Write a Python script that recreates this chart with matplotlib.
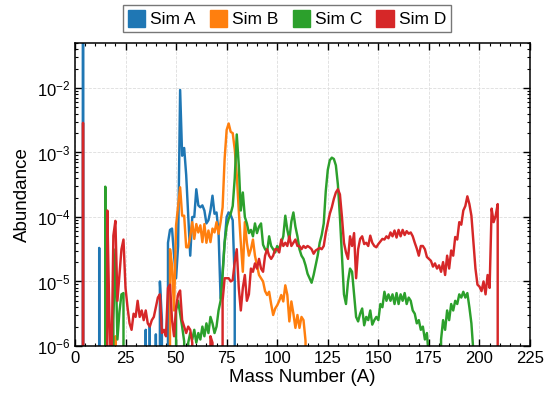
import numpy as np
import matplotlib
matplotlib.use("Agg")
import matplotlib.pyplot as plt
from matplotlib.patches import Patch
from matplotlib.ticker import MultipleLocator, LogLocator, NullFormatter

plt.rcParams['font.family'] = ['Liberation Sans', 'DejaVu Sans']
plt.rcParams['mathtext.fontset'] = 'custom'
plt.rcParams['mathtext.rm'] = 'Liberation Sans'
plt.rcParams['mathtext.it'] = 'Liberation Sans:italic'
plt.rcParams['mathtext.bf'] = 'Liberation Sans:bold'

N = None
# Mass numbers A = 1 .. 210 ; values are log10(abundance), None = zero abundance
mass_numbers = list(range(1, 211))

sim_a_log = (
    [N, N, N, -0.3, N, N, N, N, N, N] +
    [N, -4.48, N, N, N, N, N, N, N, N] +
    [N] * 10 +
    [N, N, N, N, -5.75, N, -5.67, N, N, -5.82] +
    [N, -5.0, -5.6, N, N, -4.4, -4.2, -4.18, -4.6, -4.95] +
    [-4.45, -2.03, -3.05, -2.93, -3.35, -3.97, -4.6, -4.0, -4.0, -3.57] +
    [-3.82, -3.85, -3.82, -3.9, -4.1, -4.05, -3.9, -3.67, -3.95, -3.93] +
    [-4.24, -5.26, -4.85, -4.4, -4.0, -3.93, -3.97, -4.05, -5.0, N] +
    [N] * 130
)

sim_b_log = (
    [N] * 10 +
    [N, N, N, N, N, N, N, N, N, -5.85] +
    [N] * 10 +
    [N] * 10 +
    [N, N, N, N, N, N, -4.5, -4.75, -5.45, -4.13] +
    [-3.83, -3.54, -3.98, -3.98, -4.47, -4.47, -4.3, -4.08, -4.34, -4.11] +
    [-4.24, -4.13, -4.39, -4.11, -4.4, -4.21, -4.39, -4.18, -4.24, -4.08] +
    [-4.26, -4.08, -3.85, -3.1, -2.65, -2.55, -2.68, -2.7, -2.95, -3.35] +
    [-3.9, -4.4, -4.85, -4.08, -4.4, -4.6, -4.5, -4.35, -4.6, -4.75] +
    [-4.9, -4.95, -5.0, -5.15, -5.21, -5.16, -5.35, -5.52, -5.42, -5.37] +
    [-5.3, -5.21, -5.31, -5.06, -5.21, -5.62, -5.31, -5.5, -5.72, -5.52] +
    [-5.72, -5.55, -5.6, -5.92, N, N, N, N, N, N] +
    [N] * 90
)

sim_c_log = (
    [N] * 10 +
    [N, N, N, N, -3.53, N, N, N, -5.6, -4.5] +
    [-5.9, -5.47, -5.2, -5.18, N, N, N, N, N, N] +
    [N] * 10 +
    [N, N, N, N, N, N, N, N, N, -5.45] +
    [-5.3, -5.5, -5.7, -5.93, N, -5.95, -5.8, -5.9, -5.75, -5.95] +
    [-5.8, -5.9, -5.7, -5.85, -5.65, -5.8, -5.55, -5.65, -5.8, -5.7] +
    [-5.45, -5.3, -4.9, -4.4, -4.15, -4.03, -3.95, -3.83, -3.4, -2.72] +
    [-3.2, -3.9, -3.62, -4.0, -4.1, -4.25, -4.2, -4.3, -4.1, -4.25] +
    [-4.15, -4.1, -4.43, -4.5, -4.54, -4.3, -4.45, -4.5, -4.55, -4.45] +
    [-4.5, -4.4, -4.3, -3.98, -4.2, -4.35, -4.07, -3.93, -4.15, -4.3] +
    [-4.5, -4.6, -4.65, -4.75, -4.88, -4.95, -5.02, -4.9, -4.75, -4.6] +
    [-4.4, -4.28, -4.1, -3.6, -3.27, -3.12, -3.08, -3.1, -3.2, -3.5] +
    [-4.0, -4.6, -5.2, -5.35, -5.0, -4.8, -4.85, -5.2, -5.55, -5.62] +
    [-5.5, -5.42, -5.68, -5.55, -5.6, -5.45, -5.67, -5.6, -5.55, -5.6] +
    [-5.35, -5.4, -5.16, -5.3, -5.2, -5.3, -5.2, -5.35, -5.18, -5.35] +
    [-5.2, -5.3, -5.18, -5.35, -5.25, -5.3, -5.45, -5.5, -5.65, -5.6] +
    [-5.75, -5.7, -5.9, -5.8, -6.2, N, N, N, N, N] +
    [-5.9, -5.6, -5.75, -5.45, -5.6, -5.35, -5.45, -5.3, -5.35, -5.2] +
    [-5.25, -5.16, -5.25, -5.18, -5.4, -5.65, -6.1, N, N, N] +
    [N] * 10
)

sim_d_log = (
    [N, N, N, -2.54, N, N, N, N, N, N] +
    [N, N, N, N, N, -3.9, -5.5, -6.5, -4.29, -4.06] +
    [-5.3, -4.9, -4.5, -4.35, -5.1, -5.4, -5.65, -5.75, -5.5, -5.55] +
    [-5.3, -5.55, -5.45, -5.6, -5.45, -5.65, -5.7, -5.6, -5.55, -5.4] +
    [-5.25, -5.2, -5.8, -5.75, -5.85, -5.1, -5.05, -5.6, -5.85, -5.4] +
    [-5.2, -5.14, -5.6, -5.7, -5.8, -5.7, -5.75, -5.95, N, N] +
    [N, N, N, N, N, N, -5.85, -5.95, N, N] +
    [N, N, -5.3, -4.95, -4.95, -4.95, -5.0, -4.98, -4.7, -4.5] +
    [-5.1, -5.45, -5.1, -4.9, -5.3, -5.2, -4.8, -4.85, -4.72, -4.8] +
    [-4.65, -4.8, -4.85, -4.6, -4.5, -4.6, -4.65, -4.6, -4.5, -4.5] +
    [-4.55, -4.35, -4.45, -4.4, -4.45, -4.3, -4.45, -4.4, -4.35, -4.45] +
    [-4.45, -4.5, -4.45, -4.48, -4.45, -4.47, -4.5, -4.57, -4.52, -4.5] +
    [-4.48, -4.5, -4.45, -4.25, -4.1, -3.95, -3.85, -3.72, -3.62, -3.57] +
    [-3.65, -4.0, -4.4, -4.55, -4.65, -4.3, -4.45, -4.25, -4.95, -4.5] +
    [-4.34, -4.3, -4.42, -4.4, -4.45, -4.29, -4.4, -4.45, -4.47, -4.42] +
    [-4.38, -4.34, -4.35, -4.3, -4.33, -4.24, -4.3, -4.21, -4.32, -4.2] +
    [-4.3, -4.2, -4.28, -4.22, -4.26, -4.24, -4.3, -4.4, -4.49, -4.6] +
    [-4.45, -4.45, -4.5, -4.62, -4.65, -4.68, -4.77, -4.72, -4.8, -4.75] +
    [-4.85, -4.7, -4.9, -4.6, -4.8, -4.52, -4.6, -4.31, -4.35, -4.08] +
    [-4.12, -3.9, -3.83, -3.68, -3.8, -3.98, -4.4, -4.8, -5.05, -5.08] +
    [-5.15, -5.0, -5.2, -4.9, -5.1, -3.87, -4.08, -3.98, -3.8, N]
)

series_names = ["Sim A", "Sim B", "Sim C", "Sim D"]
series_colors = ["#1f77b4", "#ff7f0e", "#2ca02c", "#d62728"]
series_logs = [sim_a_log, sim_b_log, sim_c_log, sim_d_log]


def to_abundance(logs):
    return np.array([0.0 if v is None else 10.0 ** v for v in logs])


fig = plt.figure(figsize=(5.51, 3.94), dpi=100)
ax = fig.add_axes([0.136, 0.122, 0.826, 0.769])

for name, color, logs in zip(series_names, series_colors, series_logs):
    ax.plot(mass_numbers, to_abundance(logs), color=color, lw=1.75, label=name)

ax.set_yscale('log', nonpositive='clip')
ax.set_xlim(0, 225)
ax.set_ylim(1e-6, 5e-2)

ax.xaxis.set_major_locator(MultipleLocator(25))
ax.xaxis.set_minor_locator(MultipleLocator(5))
ax.yaxis.set_major_locator(LogLocator(base=10, numticks=20))
ax.yaxis.set_minor_locator(LogLocator(base=10, subs=np.arange(2, 10), numticks=20))
ax.yaxis.set_minor_formatter(NullFormatter())

ax.tick_params(which='both', direction='in', top=True, right=True, labelsize=12)
ax.tick_params(which='major', length=5, width=1)
ax.tick_params(which='minor', length=2.5, width=0.8)
for sp in ax.spines.values():
    sp.set_linewidth(1.1)

ax.grid(True, which='major', ls='--', lw=0.6, color='#dddddd')
ax.set_axisbelow(True)

ax.set_xlabel("Mass Number (A)", fontsize=13.5, labelpad=2)
ax.set_ylabel("Abundance", fontsize=13.5, labelpad=4)

handles = [Patch(facecolor=c, edgecolor=c, label=n) for n, c in zip(series_names, series_colors)]
leg = fig.legend(handles=handles, loc='center', bbox_to_anchor=(0.521, 0.953), ncol=4,
                 fontsize=12.5, frameon=True, fancybox=False, handlelength=1.0, handleheight=1.15,
                 handletextpad=0.3, columnspacing=0.8, borderpad=0.28, borderaxespad=0)
leg.get_frame().set_edgecolor('#555555')
leg.get_frame().set_linewidth(1.0)

fig.savefig("out.png", dpi=100)
